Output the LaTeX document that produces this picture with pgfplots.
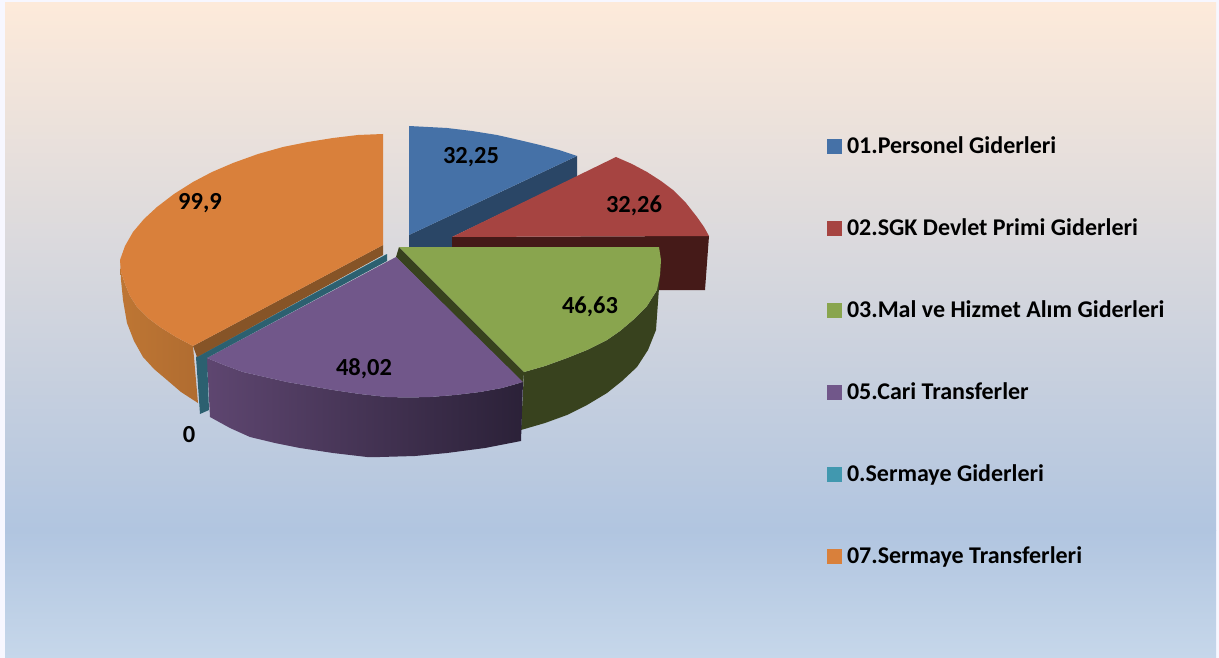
\documentclass[border=0pt]{standalone}
\usepackage{fontspec}
\setmainfont{Carlito}
\usepackage{pgfplots}
\pgfplotsset{compat=1.18}
\definecolor{blueT}{HTML}{4571A7}
\definecolor{blueW}{HTML}{2A4666}
\definecolor{redT}{HTML}{A64441}
\definecolor{redW}{HTML}{451A18}
\definecolor{greenT}{HTML}{89A54E}
\definecolor{greenW}{HTML}{38421E}
\definecolor{purpleT}{HTML}{71578A}
\definecolor{tealT}{HTML}{4198AF}
\definecolor{tealW}{HTML}{2C6070}
\definecolor{orangeT}{HTML}{D9803B}
\definecolor{orangeC}{HTML}{865427}

\begin{document}
\begin{tikzpicture}
\begin{axis}[
  width=1219pt,height=658pt,scale only axis,
  xmin=0,xmax=1219,ymin=0,ymax=658,y dir=reverse,
  hide axis,clip=false,
  legend style={at={(axis cs:827,137)},anchor=north west,draw=none,fill=none,
    font=\fontsize{24}{26}\selectfont\bfseries,row sep=61pt,column sep=5pt,inner sep=0pt,outer sep=0pt,
    nodes={text height=16pt,text depth=5pt,inner sep=0pt,anchor=west}},
  legend cell align=left,
  legend image code/.code={\fill[#1] (0pt,-6.5pt) rectangle (15pt,8.5pt);},
]
% background
\addplot[fill=white!92!blue!40,draw=none,forget plot] coordinates {(0,0) (1219,0) (1219,658) (0,658)};
\addplot[draw=none,forget plot,top color={rgb,255:red,253;green,234;blue,218},bottom color={rgb,255:red,177;green,197;blue,224}]
  coordinates {(5,3) (1216,3) (1216,530) (5,530)};
\addplot[draw=none,forget plot,top color={rgb,255:red,177;green,197;blue,224},bottom color={rgb,255:red,198;green,215;blue,234}]
  coordinates {(5,530) (1216,530) (1216,658) (5,658)};

% 01 blue
\addplot[fill=blueW,draw=none,forget plot] coordinates {(409,235) (577,156) (577,177) (452,237) (452,250) (409,250)};
\addplot[fill=blueT,draw=none] coordinates {(409,126) (428,127) (447,128) (472,131) (497,135) (519,140) (540,145) (559,150) (577,156) (409,235)};
\addlegendentry{01.Personel Giderleri}

% 02 red
\addplot[fill=redW,draw=none,forget plot] coordinates {(452,237) (709,236) (705,290) (650,290) (650,250) (452,250)};
\addplot[fill=redT,draw=none] coordinates {(452,237) (616,157) (632,164) (647,172) (661,181) (673,190) (686,203) (697,217) (704,227) (709,236)};
\addlegendentry{02.SGK Devlet Primi Giderleri}

% 03 green
\addplot[fill=greenW,draw=none,forget plot] coordinates {(399,247) (524,372) (523,385) (396,257)};
\addplot[fill=greenW,draw=none,forget plot] coordinates {(661,260) (656,330) (648,350) (637,367) (622,381) (607,393) (587,405) (567,415) (545,423) (521,430) (524,372) (545,366) (567,358) (587,350) (607,340) (620,331) (633,320) (647,306) (657,290) (660,275)};
\addplot[fill=greenT,draw=none] coordinates {(399,247) (659,247) (661,260) (660,275) (657,290) (647,306) (633,320) (620,331) (607,340) (587,350) (567,358) (545,366) (524,372)};
\addlegendentry{03.Mal ve Hizmet Alım Giderleri}

% 05 purple
\addplot[draw=none,forget plot,left color={rgb,255:red,94;green,70;blue,112},right color={rgb,255:red,43;green,33;blue,56}]
  coordinates {(207,358) (210,417) (230,428) (250,437) (275,443) (300,448) (333,453) (367,457) (380,457) (415,456) (447,453) (485,448) (521,441) (523,382) (502,388) (480,392) (455,395) (430,397) (408,397.5) (387,397) (360,394) (333,390) (310,386) (287,382) (265,377) (243,372) (224,365)};
\addplot[fill=purpleT,draw=none] coordinates {(396,257) (523,382) (502,388) (480,392) (455,395) (430,397) (408,397.5) (387,397) (360,394) (333,390) (310,386) (287,382) (265,377) (243,372) (224,365) (207,358)};
\addlegendentry{05.Cari Transferler}

% 0 teal (zero value, only its cut faces show)
\addplot[fill=tealW,draw=none,forget plot] coordinates {(387,254) (196,357) (200,414) (209,410) (207,358) (387,261)};
\addplot[fill=tealT,draw=none] coordinates {(387,254) (197,357)};
\addlegendentry{0.Sermaye Giderleri}

% 07 orange
\addplot[fill=orangeC,draw=none,forget plot] coordinates {(383,245) (193,346) (197,357) (383,255)};
\addplot[draw=none,forget plot,left color={rgb,255:red,190;green,118;blue,52},right color={rgb,255:red,176;green,108;blue,48}]
  coordinates {(120,260) (121,272) (125,284) (130,296) (137,307) (148,318) (160,327) (176,337) (193,346) (198,403) (181,392) (167,380) (154,369) (143,357) (134,341) (127,323) (123,300) (121,280)};
\addplot[fill=orangeT,draw=none] coordinates {(383,134) (358,135) (333,138) (308,142) (283,147) (258,154) (233,163) (212,172) (193,182) (174,194) (157,207) (144,219) (133,232) (125,246) (120,260) (121,272) (125,284) (130,296) (137,307) (148,318) (160,327) (176,337) (193,346) (383,245)};
\addlegendentry{07.Sermaye Transferleri}

% data labels
\addplot[draw=none,forget plot,nodes near coords,point meta=explicit symbolic,
  every node near coord/.append style={anchor=center,inner sep=0pt,font=\fontsize{24.5}{26}\selectfont\bfseries}]
  coordinates {
  (471,157) [32,25]
  (634,206) [32,26]
  (590,307) [46,63]
  (364,369) [48,02]
  (189,435) [0]
  (200,203) [99,9]
};
\end{axis}
\end{tikzpicture}
\end{document}
